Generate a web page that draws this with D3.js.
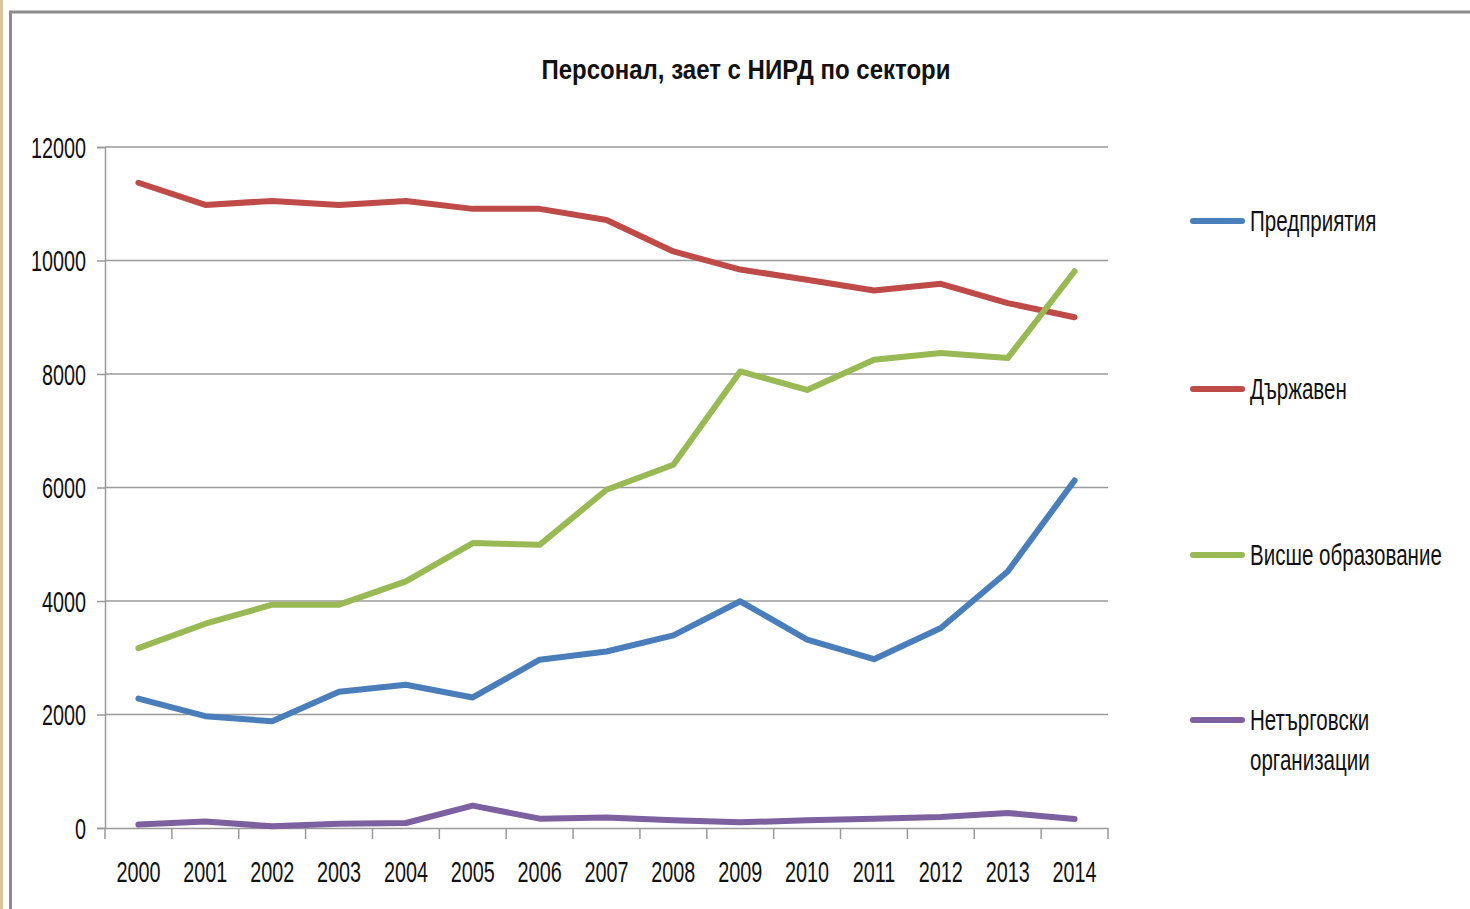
<!DOCTYPE html>
<html>
<head>
<meta charset="utf-8">
<script src="https://cdn.jsdelivr.net/npm/d3@7"></script>
<style>
  html, body { margin: 0; padding: 0; background: #fff; }
  svg { display: block; }
  text { font-family: "Liberation Sans", Arial, sans-serif; fill: #111; }
</style>
</head>
<body>
<svg id="chart" width="1470" height="909"></svg>
<script>
const years = ["2000","2001","2002","2003","2004","2005","2006","2007","2008","2009","2010","2011","2012","2013","2014"];
const seriesNames = ["Предприятия", "Държавен", "Висше образование", "Нетърговски организации"];
const enterprises = [2280, 1970, 1880, 2400, 2525, 2300, 2965, 3110, 3395, 3995, 3320, 2975, 3525, 4520, 6125];
const government  = [11370, 10980, 11050, 10980, 11050, 10910, 10910, 10715, 10160, 9840, 9660, 9470, 9590, 9250, 9000];
const higherEdu   = [3170, 3600, 3935, 3935, 4345, 5020, 4990, 5960, 6400, 8045, 7720, 8250, 8370, 8280, 9810];
const nonProfit   = [60, 115, 30, 75, 88, 395, 165, 185, 135, 100, 135, 165, 195, 265, 160];
const yTicks = [0, 2000, 4000, 6000, 8000, 10000, 12000];
const colors = ["#4a7ebb", "#be4b48", "#98b954", "#7d60a0"];
const chartTitle = "Персонал, зает с НИРД по сектори";
const legendLines = [["Предприятия"], ["Държавен"], ["Висше образование"], ["Нетърговски", "организации"]];

(function () {
const allSeries = [enterprises, government, higherEdu, nonProfit];

const svg = d3.select("#chart");
const SX = 0.66;
const SXL = 0.685;

// background decorations / frame
svg.append("rect").attr("x", 0).attr("y", 0).attr("width", 1470).attr("height", 909).attr("fill", "#fff");
svg.append("rect").attr("x", 0).attr("y", 0).attr("width", 3).attr("height", 909).attr("fill", "#d8c69c");
svg.append("line").attr("x1", 10.5).attr("x2", 10.5).attr("y1", 11).attr("y2", 909)
  .attr("stroke", "#8c8c8c").attr("stroke-width", 3);
svg.append("line").attr("x1", 9).attr("x2", 1470).attr("y1", 12).attr("y2", 12)
  .attr("stroke", "#8c8c8c").attr("stroke-width", 3);

const pLeft = 105, pRight = 1108, pTop = 147, pBottom = 828;
const x = d3.scaleBand().domain(years).range([pLeft, pRight]).padding(0);
const y = d3.scaleLinear().domain([0, 12000]).range([pBottom, pTop]);
const cx = d => x(d) + x.bandwidth() / 2;

function addText(g, tx, ty, str, anchor, size, sx, weight) {
  return g.append("text")
    .attr("transform", `translate(${tx},${ty}) scale(${sx},1)`)
    .attr("text-anchor", anchor)
    .attr("font-size", size)
    .attr("font-weight", weight || "normal")
    .text(str);
}

// gridlines
svg.append("g").selectAll("line").data(yTicks.filter(v => v > 0)).join("line")
  .attr("x1", pLeft).attr("x2", pRight)
  .attr("y1", d => y(d)).attr("y2", d => y(d))
  .attr("stroke", "#9a9a9a").attr("stroke-width", 1.5);

// y axis
const yAxisG = svg.append("g").attr("transform", `translate(${pLeft},0)`)
  .call(d3.axisLeft(y).tickValues(yTicks).tickSize(8).tickFormat(""));
yAxisG.select(".domain").attr("stroke", "#9a9a9a").attr("stroke-width", 1.5);
yAxisG.selectAll(".tick line").attr("stroke", "#9a9a9a").attr("stroke-width", 1.5);

// x axis (ticks at category boundaries)
const xAxisG = svg.append("g").attr("transform", `translate(0,${pBottom})`)
  .call(d3.axisBottom(x).tickSize(0).tickFormat(""));
xAxisG.select(".domain").attr("stroke", "#9a9a9a").attr("stroke-width", 1.5);
const bounds = years.map(d => x(d)).concat([x(years[years.length - 1]) + x.bandwidth()]);
xAxisG.selectAll(".bnd").data(bounds).join("line").attr("class", "bnd")
  .attr("x1", d => d).attr("x2", d => d).attr("y1", 0).attr("y2", 11)
  .attr("stroke", "#9a9a9a").attr("stroke-width", 1.5);

// tick labels
const labels = svg.append("g");
yTicks.forEach(v => addText(labels, 86, y(v) + 10.5, String(v), "end", 30, SX));
years.forEach(yr => addText(labels, cx(yr), 882, yr, "middle", 30, SX));

// lines
const line = d3.line().x((d, i) => cx(years[i])).y(d => y(d));
const linesG = svg.append("g");
allSeries.forEach((s, i) => {
  linesG.append("path").datum(s).attr("d", line)
    .attr("fill", "none").attr("stroke", colors[i]).attr("stroke-width", 6)
    .attr("stroke-linejoin", "round").attr("stroke-linecap", "round");
});

// title
svg.append("text")
  .attr("x", 746).attr("y", 79)
  .attr("text-anchor", "middle")
  .attr("font-size", 28.5).attr("font-weight", "bold")
  .attr("textLength", 409).attr("lengthAdjust", "spacingAndGlyphs")
  .text(chartTitle);

// legend
const legendY = [221, 389, 555, 720];
const legG = svg.append("g");
legendLines.forEach((lines, i) => {
  legG.append("line").attr("x1", 1193).attr("x2", 1242)
    .attr("y1", legendY[i]).attr("y2", legendY[i])
    .attr("stroke", colors[i]).attr("stroke-width", 6).attr("stroke-linecap", "round");
  lines.forEach((ln, j) => addText(legG, 1250, legendY[i] + 10 + j * 40, ln, "start", 30, SXL));
});
})();
</script>
</body>
</html>
